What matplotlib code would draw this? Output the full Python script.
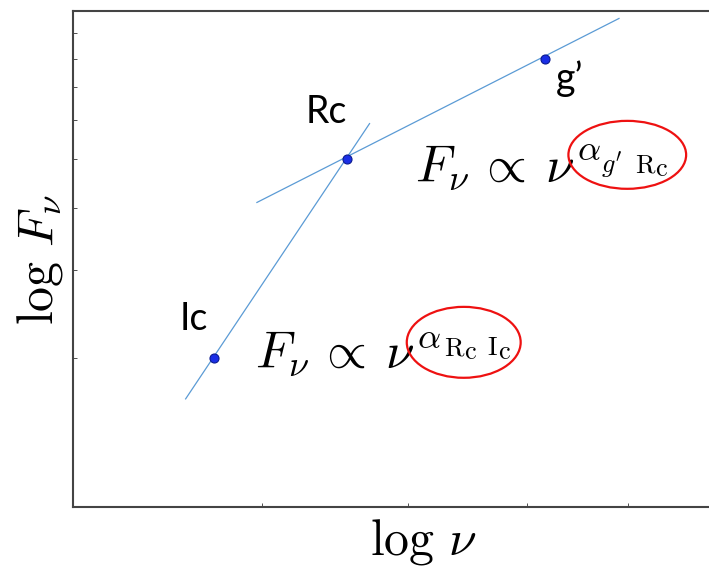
import matplotlib
matplotlib.use("Agg")
import matplotlib.pyplot as plt
from matplotlib.patches import Ellipse
from matplotlib.transforms import offset_copy

plt.rcParams['mathtext.fontset'] = 'cm'

# --- data (arbitrary log units) ---
point_names = ["Ic", "Rc", "g\u2019"]
point_x = [2.22, 4.31, 7.42]
point_y = [3.00, 7.01, 9.03]

steep_x = [1.77, 4.66]
steep_y = [2.18, 7.73]
shallow_x = [2.89, 8.58]
shallow_y = [6.14, 9.85]

label_x = [1.68, 3.65, 7.59]
label_y = [3.57, 7.74, 8.41]

formula_x = [2.86, 5.37]
formula_y = [2.80, 6.55]
# exponent subscripts: list of (text, dx px, dy px) relative to formula anchor
exponent_subs = [
    [(r"$\mathrm{R}$", 189, 13), (r"$\mathrm{c}$", 209.5, 9),
     (r"$\mathrm{I}$", 232, 13), (r"$\mathrm{c}$", 242.5, 9)],
    [(r"$g'$", 186, 10), (r"$\mathrm{R}$", 220, 10), (r"$\mathrm{c}$", 240.5, 6)],
]

ellipse_cx = [6.14, 8.71]
ellipse_cy = [3.32, 7.10]
ellipse_w = [1.79, 1.85]
ellipse_h = [1.43, 1.37]

xtick_vals = [2.97, 5.26, 7.13, 8.72]
ytick_vals = [3.00, 4.78, 6.03, 7.02, 7.80, 8.47, 9.03, 9.56]

W, H = 709, 569
fig = plt.figure(figsize=(W / 100, H / 100), dpi=100)
ax = fig.add_axes([73 / W, (H - 507) / H, 700 / W, 496 / H])
ax.set_xlim(0, 11)
ax.set_ylim(0, 10)

line_color = '#5b9bd5'
ax.plot(steep_x, steep_y, color=line_color, lw=0.9)
ax.plot(shallow_x, shallow_y, color=line_color, lw=0.9)
ax.plot(point_x, point_y, 'o', color='#1a2ee6', markeredgecolor='#0a1a90',
        markersize=6.5, markeredgewidth=0.8, zorder=5)

for name, lx, ly in zip(point_names, label_x, label_y):
    ax.text(lx, ly, name, fontsize=27, family=['Lato', 'DejaVu Sans'],
            ha='left', va='baseline', color='black')


def put(x, y, t, dx, dy, fs):
    tr = offset_copy(ax.transData, fig=fig, x=dx, y=dy, units='dots')
    ax.text(x, y, t, fontsize=fs, ha='left', va='baseline', color='black',
            transform=tr)


for fx, fy, subs, sy in zip(formula_x, formula_y, exponent_subs, [20, 22]):
    put(fx, fy, r"$F_\nu$", 0, 0, 37)
    put(fx, fy, r"$\propto$", 62, 0, 37)
    put(fx, fy, r"$\nu$", 130, 0, 37)
    put(fx, fy, r"$\alpha$", 162, sy, 26)
    for t, dx, dy in subs:
        put(fx, fy, t, dx, dy, 19)

for cx, cy, w, h in zip(ellipse_cx, ellipse_cy, ellipse_w, ellipse_h):
    ax.add_patch(Ellipse((cx, cy), w, h, fill=False, edgecolor='#ee1111', lw=1.6, zorder=6))

ax.set_xticks(xtick_vals)
ax.set_yticks(ytick_vals)
ax.tick_params(direction='in', length=3, width=0.6, color='#333333',
               labelbottom=False, labelleft=False)
for s in ['left', 'bottom', 'top']:
    ax.spines[s].set_linewidth(1.5)
    ax.spines[s].set_color('#444444')
ax.spines['right'].set_visible(False)

ax.set_xlabel(r"$\log\,\nu$", fontsize=36)
ax.set_ylabel(r"$\log\,F_\nu$", fontsize=36)
ax.xaxis.set_label_coords(350 / 700, -10 / 496)
ax.yaxis.set_label_coords(-8 / 700, 0.5)

fig.savefig("out.png", dpi=100, facecolor='white')
